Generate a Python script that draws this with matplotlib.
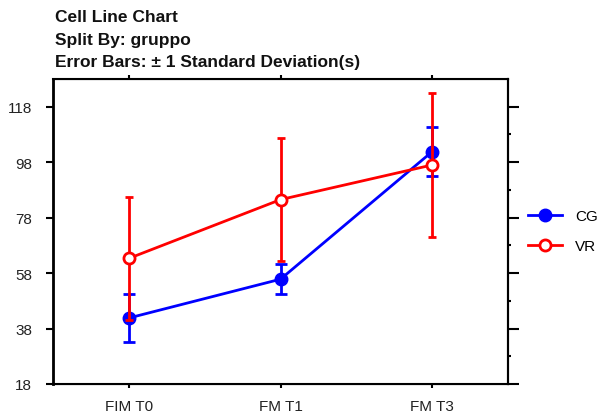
import matplotlib
matplotlib.use('Agg')
import matplotlib.pyplot as plt
from matplotlib.lines import Line2D
from matplotlib.ticker import FixedLocator

plt.rcParams['font.family'] = ['Liberation Sans', 'DejaVu Sans']

# group means and standard deviations per time point
times = ['FIM T0', 'FM T1', 'FM T3']
cg_mean = [41.8, 55.8, 101.8]
cg_sd = [8.8, 5.4, 8.8]
vr_mean = [63.3, 84.5, 97.0]
vr_sd = [22.2, 22.3, 26.0]
y_ticks = [18, 38, 58, 78, 98, 118]
y_minor = [28, 48, 68, 88, 108]

blue = '#0000ff'
red = '#ff0000'

fig = plt.figure(figsize=(6.05, 4.14), dpi=100)
ax = fig.add_axes([53 / 605, 1 - 385 / 414, 455 / 605, 305 / 414])

x = list(range(len(times)))
ax.errorbar(x, cg_mean, yerr=cg_sd, color=blue, lw=2, marker='o', ms=9,
            mfc=blue, mec=blue, capsize=4, capthick=2, elinewidth=2, zorder=2)
ax.errorbar(x, vr_mean, yerr=vr_sd, color=red, lw=2, marker='o', ms=8,
            mfc='white', mec=red, mew=2, capsize=3, capthick=2, elinewidth=2, zorder=3)

ax.set_xlim(-0.5, 2.5)
ax.set_ylim(18, 128)
ax.set_xticks(x)
ax.set_xticklabels(times)
ax.set_yticks(y_ticks)

for s in ax.spines.values():
    s.set_linewidth(1.5)
ax.spines['left'].set_linewidth(2)

ax.tick_params(axis='y', which='major', left=True, right=False, direction='out',
               length=5, width=1.5, labelsize=11, pad=10)
ax.tick_params(axis='x', which='major', top=True, bottom=True, direction='out',
               length=3, width=1.5, labelsize=11, pad=8)
for lbl in ax.get_xticklabels() + ax.get_yticklabels():
    lbl.set_color('#222222')

# unlabelled scale on the right edge
ax_r = ax.twinx()
ax_r.set_ylim(ax.get_ylim())
ax_r.set_yticks(y_ticks)
ax_r.yaxis.set_minor_locator(FixedLocator(y_minor))
ax_r.tick_params(axis='y', which='major', direction='out', length=8, width=1.5,
                 labelright=False)
ax_r.tick_params(axis='y', which='minor', direction='out', length=2, width=1.5)
ax_r.spines['right'].set_linewidth(1.5)

# header lines
header = ['Cell Line Chart', 'Split By: gruppo',
          'Error Bars: \u00b1 1 Standard Deviation(s)']
for i, line in enumerate(header):
    fig.text(55 / 605, 1 - (18 + 22 * i) / 414, line, fontsize=12.5,
             fontweight='bold', va='center', color='#111111')

handles = [
    Line2D([], [], color=blue, lw=2, marker='o', ms=9, mfc=blue, mec=blue),
    Line2D([], [], color=red, lw=2, marker='o', ms=8, mfc='white', mec=red, mew=2),
]
fig.legend(handles, ['CG', 'VR'], loc='upper left',
           bbox_to_anchor=(528 / 605, 1 - 210 / 414), frameon=False,
           fontsize=11, handlelength=2.2, handletextpad=0.9, labelspacing=1.05,
           borderpad=0, borderaxespad=0)

fig.savefig('out.png', dpi=100)
